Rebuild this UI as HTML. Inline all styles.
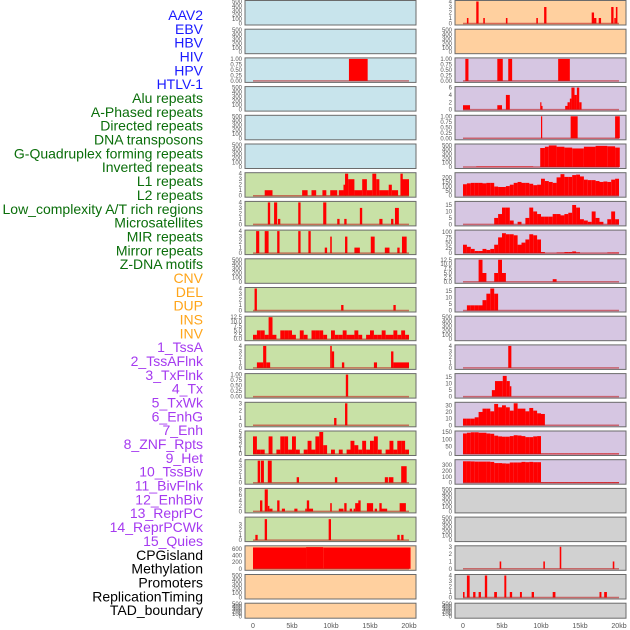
<!DOCTYPE html>
<html><head><meta charset="utf-8">
<style>
html,body{margin:0;padding:0;background:#fff;}
body{width:630px;height:630px;overflow:hidden;font-family:"Liberation Sans",sans-serif;}
svg{display:block;}
</style></head>
<body>
<svg id="chart" width="630" height="630" xmlns="http://www.w3.org/2000/svg"></svg>
<script>
// ---- labels ----
const labelText = ["AAV2","EBV","HBV","HIV","HPV","HTLV-1","Alu repeats","A-Phased repeats","Directed repeats","DNA transposons","G-Quadruplex forming repeats","Inverted repeats","L1 repeats","L2 repeats","Low_complexity A/T rich regions","Microsatellites","MIR repeats","Mirror repeats","Z-DNA motifs","CNV","DEL","DUP","INS","INV","1_TssA","2_TssAFlnk","3_TxFlnk","4_Tx","5_TxWk","6_EnhG","7_Enh","8_ZNF_Rpts","9_Het","10_TssBiv","11_BivFlnk","12_EnhBiv","13_ReprPC","14_ReprPCWk","15_Quies","CPGisland","Methylation","Promoters","ReplicationTiming","TAD_boundary"];
const labelGroup = [0,0,0,0,0,0,1,1,1,1,1,1,1,1,1,1,1,1,1,2,2,2,2,2,3,3,3,3,3,3,3,3,3,3,3,3,3,3,3,4,4,4,4,4];
const xTicks = [0,5,10,15,20];
const xTickLabels = ["0","5kb","10kb","15kb","20kb"];

// ---- tick sets ----
const T500=[0,100,200,300,400,500], T1=[0,0.25,0.5,0.75,1], T4=[0,1,2,3,4], T3=[0,1,2,3];
const T125=[0,2.5,5,7.5,10,12.5], T5=[0,1,2,3,4,5], T8=[0,2,4,6,8], T600=[0,200,400,600];
const T6=[0,2,4,6], T200=[0,50,100,150,200], T15=[0,5,10,15], T100=[0,25,50,75,100];
const T30=[0,10,20,30], T150=[0,50,100,150], T300=[0,100,200,300];

// ---- interval data (kb start, kb width, value) ----
const L2_x=[12.3], L2_w=[2.4], L2_v=[1];
const L6_x=[1.5,6.3,7.5,8.9,9.9,11.0,11.6,11.8,12.2,13.0,14.0,14.6,15.3,15.8,16.2,17.4,17.8,18.9,19.1];
const L6_w=[1.0,0.7,0.6,0.5,0.9,0.6,0.3,0.4,0.8,1.0,0.6,0.7,0.5,0.4,1.2,0.4,0.8,0.3,0.9];
const L6_v=[1,1,1,1,1,1,2,4,3,1,3,1,4,3,1,2,1,4,3];
const L7_x=[1.9,2.7,3.2,5.8,9.0,10.8,11.7,13.7,16.2,17.7,18.2];
const L7_w=[0.3,0.4,0.3,0.3,0.4,0.3,0.3,0.3,0.4,0.3,0.5];
const L7_v=[4,4,1,4,4,1,1,3,1,1,3];
const L8_x=[0.4,1.5,3.1,5.8,7.1,9.2,9.9,11.8,13.0,15.1,16.9,18.5,19.1];
const L8_w=[0.4,0.5,0.3,0.3,0.3,0.3,0.2,0.3,0.7,0.5,0.6,0.3,0.6];
const L8_v=[4,4,4,4,4,1,3,3,1,3,1,1,3];
const L10_x=[0.2,11.3,18.0], L10_w=[0.3,0.3,0.3], L10_v=[4,1,1];
const L12_x=[0.5,1.3,1.7,9.9,10.1,11.4,15.5,17.7,18.0];
const L12_w=[0.8,0.4,0.5,0.2,0.3,0.3,0.4,0.3,2.0];
const L12_v=[1,4,1,4,3,1,1,3,1];
const L13_x=[11.9], L13_w=[0.3], L13_v=[1];
const L14_x=[10.4,11.8], L14_w=[0.3,0.3], L14_v=[1,3];
const L16_x=[0.6,1.0,1.9,5.6,10.5,16.9,17.4,19.0];
const L16_w=[0.3,0.4,0.5,0.3,0.3,0.4,0.6,0.7];
const L16_v=[4,4,4,1,1,1,1,3];
const L17_x=[0.9,1.5,1.9,2.1,3.1,3.7,5.3,6.7,6.9,7.1,9.9,11.0,11.7,12.4,12.9,13.1,13.5,14.6,15.6,16.2,16.4,18.8];
const L17_w=[0.3,0.4,0.2,0.4,0.3,0.4,0.4,0.2,0.3,0.6,0.2,0.6,0.3,0.3,0.2,0.5,0.3,0.8,0.3,0.3,0.8,0.8];
const L17_v=[4,8,2,1,4,1,1,1,4,1,3,1,3,1,1,3,4,3,1,3,1,3];
const L18_x=[0.3,1.5,9.7,18.5,19.0], L18_w=[0.3,0.3,0.3,0.3,0.3], L18_v=[1,4,4,1,1];
const L19_x=[0,6.8,9.0], L19_w=[6.8,2.2,11.2], L19_v=[640,650,640];

const R0_x=[0.5,1.7,2.6,5.5,9.4,10.4,16.5,16.8,17.4,19.0,19.4,19.6];
const R0_w=[0.2,0.3,0.2,0.2,0.2,0.3,0.3,0.3,0.3,0.3,0.2,0.2];
const R0_v=[1,4,1,1,1,3,2,1,1,3,1,3];
const R2_x=[0.3,4.4,5.8,12.2], R2_w=[0.4,0.7,0.5,1.5], R2_v=[1,1,1,1];
const R3_x=[0,4.4,5.5,9.9,10.0,13.1,13.4,13.7,13.9,14.3,14.6,14.9];
const R3_w=[0.9,0.6,0.5,0.1,0.2,0.3,0.3,0.2,0.4,0.3,0.3,0.3];
const R3_v=[1.2,1.2,4,2,1,1,2,3,6,4,6,2];
const R4_x=[10.0,13.8,19.5], R4_w=[0.1,0.9,0.6], R4_v=[1,1,1];
const R5_x=[1.7,9.9,10.5,11.0,12.0,13.0,14.0,15.5,17.0,18.5,19.5];
const R5_w=[7.3,0.6,0.5,1.0,1.0,1.0,1.5,1.5,1.5,1.0,0.6];
const R5_v=[12,440,470,500,470,450,430,470,490,480,450];
const R12_x=[5.8], R12_w=[0.4], R12_v=[4];
const R13_x=[3.7,4.1,5.1,5.6,6.0], R13_w=[0.4,1.0,0.5,0.4,0.2], R13_v=[5,12,16,12,8];
const R19_x=[4.7,10.3,12.4,19.2], R19_w=[0.2,0.2,0.2,0.2], R19_v=[1,1,3,1];
const R20_x=[0,0.5,1.3,2.0,2.8,4.0,5.3,6.0,7.3,8.8,11.5,17.5,18.1];
const R20_w=[0.2,0.35,0.3,0.3,0.3,0.35,0.25,0.3,0.25,0.3,0.35,0.25,0.35];
const R20_v=[1,4,1,1,4,1,4,1,1,1,1,1,1];

// ---- binned data (0.5 kb bins) ----
const L11_bins=[2.5,5,5,2.5,12.5,2.5,0,5,5,5,2.5,0,5,2.5,0,5,5,5,2.5,0,5,2.5,2.5,5,2.5,2.5,5,2.5,0,2.5,5,2.5,2.5,5,2.5,2.5,5,2.5,5,2.5];
const L15_bins=[4,1,1,0,4,0,1,4,4,1,4,1,0,1,3,1,4,5,2,0,1,0,1,0,1,3,2,1,3,1,3,4,1,0,1,3,1,3,3,1];
const R6_bins=[125,135,140,140,140,135,140,140,100,95,95,105,120,140,150,140,140,130,115,120,185,160,150,140,200,235,205,205,225,230,210,175,170,170,160,150,155,150,175,185];
const R7_bins=[0,0,0,0,0,0,0,0,5,8,13,13,3,0,2,0,5,13,10,8,6,6,6,8,8,7,8,9,15,13,4,3,2,10,5,2,0,4,10,4];
const R8_bins=[40,30,20,10,10,20,15,20,40,75,95,90,90,85,40,50,65,90,85,65,5,0,0,0,3,3,5,5,8,4,0,0,0,0,0,0,0,3,3,3];
const R9_bins=[0,0,0,0,12.5,5,0,0,5,12.5,5,0,0,0,0,0,0,0,0,0,0,0,0,1.5,0,0,0,0,0,0,0,0,0,0,0,0,0,0,0,0];
const R10_bins=[0,4,4,4,4,8,13,17,13,0,0,0,0,0,0,0,0,0,0,0,0,0,0,0,0,0,0,0,0,0,0,0,0,0,0,0,0,0,0,0];
const R14_bins=[10,10,10,12,20,25,25,21,32,27,30,27,22,33,25,25,21,26,22,18,17,0,0,0,0,0,0,0,0,0,0,0,0,0,0,0,0,0,0,0];
const R15_bins=[140,145,148,148,145,145,140,138,125,120,118,118,122,128,126,122,115,115,120,122,3,3,3,3,3,3,3,3,3,3,3,3,3,3,3,3,3,3,3,3];
const R16_bins=[360,360,358,355,355,355,355,350,330,330,325,322,340,340,340,350,345,350,345,345,10,10,10,10,10,10,10,10,10,10,10,10,10,10,10,10,10,10,10,10];

// ---- render ----
const NS="http://www.w3.org/2000/svg";
const svg=document.getElementById('chart');
function mk(tag,attrs,parent){const e=document.createElementNS(NS,tag);for(const k in attrs)e.setAttribute(k,attrs[k]);(parent||svg).appendChild(e);return e;}
const labelColors=["#1a1aff","#0a6e0a","#ffa51a","#a53af0","#000000"];
labelText.forEach((t,i)=>{
  const e=mk('text',{x:203,y:15+i*13.84+5,'text-anchor':'end','font-size':'14','fill':labelColors[labelGroup[i]]});
  e.textContent=t;
  
  
});
const BLUE="#c8e4ec",GREEN="#c8e1a6",PEACH="#ffd09f",PURPLE="#d6c6e2",GRAY="#d1d1d1";
function bins(a){return {x:a.map((_,i)=>i*0.5),w:a.map(()=>0.5),v:a};}
function iv(x,w,v){return {x:x,w:w,v:v};}
const leftPanels=[
 [BLUE,T500,500,null],[BLUE,T500,500,null],[BLUE,T1,1,iv(L2_x,L2_w,L2_v)],[BLUE,T500,500,null],[BLUE,T500,500,null],[BLUE,T500,500,null],
 [GREEN,T4,4,iv(L6_x,L6_w,L6_v)],[GREEN,T4,4,iv(L7_x,L7_w,L7_v)],[GREEN,T4,4,iv(L8_x,L8_w,L8_v)],[GREEN,T500,500,null],
 [GREEN,T4,4,iv(L10_x,L10_w,L10_v)],[GREEN,T125,12.5,bins(L11_bins)],[GREEN,T4,4,iv(L12_x,L12_w,L12_v)],[GREEN,T1,1,iv(L13_x,L13_w,L13_v)],
 [GREEN,T3,3,iv(L14_x,L14_w,L14_v)],[GREEN,T5,5,bins(L15_bins)],[GREEN,T4,4,iv(L16_x,L16_w,L16_v)],[GREEN,T8,8,iv(L17_x,L17_w,L17_v)],
 [GREEN,T3,4.2,iv(L18_x,L18_w,L18_v)],[PEACH,T600,660,iv(L19_x,L19_w,L19_v)],[PEACH,T500,500,null],[PEACH,T500,500,null]];
const rightPanels=[
 [PEACH,T4,4,iv(R0_x,R0_w,R0_v)],[PEACH,T500,500,null],[PURPLE,T1,1,iv(R2_x,R2_w,R2_v)],[PURPLE,T6,6,iv(R3_x,R3_w,R3_v)],
 [PURPLE,T1,1,iv(R4_x,R4_w,R4_v)],[PURPLE,T500,510,iv(R5_x,R5_w,R5_v)],[PURPLE,T200,240,bins(R6_bins)],[PURPLE,T15,17,bins(R7_bins)],
 [PURPLE,T100,105,bins(R8_bins)],[PURPLE,T125,12.5,bins(R9_bins)],[PURPLE,T15,17,bins(R10_bins)],[PURPLE,T500,500,null],
 [PURPLE,T4,4,iv(R12_x,R12_w,R12_v)],[PURPLE,T15,17,iv(R13_x,R13_w,R13_v)],[PURPLE,T30,33,bins(R14_bins)],[PURPLE,T150,150,bins(R15_bins)],
 [PURPLE,T300,370,bins(R16_bins)],[GRAY,T500,500,null],[GRAY,T500,500,null],[GRAY,T3,3,iv(R19_x,R19_w,R19_v)],
 [GRAY,T4,4,iv(R20_x,R20_w,R20_v)],[GRAY,T500,500,null]];

function fmt(t,ticks){const dec=ticks.some(v=>v%1!==0);if(!dec)return String(t);return ticks.some(v=>Math.round(v*100)%10!==0&&v<2)?t.toFixed(2):t.toFixed(1);}
function drawPanel(col,i,p){
  const px=col===0?245:455, pw=171;
  const top=0.5+28.7*i, h=(i===21?15:24.5);
  const g=mk('g',{});
  
  
  const bg=mk('rect',{x:px,y:top,width:pw,height:h,fill:p[0],stroke:'#6b6b6b','stroke-width':1},g);
  
  
  const y0=top+h-1.5, ymax=p[2];
  const ys=v=>y0-(v/ymax)*(h-2.5);
  const xs=kb=>px+8+kb*7.8;
  p[1].forEach(t=>{
    const tx=mk('text',{x:px-3,y:ys(t)+2,'text-anchor':'end','font-size':'6','fill':'#555'},g);
    tx.textContent=fmt(t,p[1]);
    
    
  });
  if(p[3]){
    const d=p[3];
    for(let k=0;k<d.v.length;k++){
      if(d.v[k]<=0)continue;
      const r=mk('rect',{x:xs(d.x[k]),y:ys(d.v[k]),width:Math.max(1.2,d.w[k]*7.8),height:y0-ys(d.v[k]),fill:'#ff0000'},g);
      
      
    }
    const bl=mk('line',{x1:xs(0),x2:xs(20),y1:y0,y2:y0,stroke:'rgba(190,20,20,0.55)','stroke-width':1.5},g);
    
    
  }
}
leftPanels.forEach((p,i)=>drawPanel(0,i,p));
rightPanels.forEach((p,i)=>drawPanel(1,i,p));
[245,455].forEach((px,c)=>{
  xTicks.forEach((t,k)=>{
    const e=mk('text',{x:px+8+t*7.8,y:628,'text-anchor':'middle','font-size':'7','fill':'#555'});
    e.textContent=xTickLabels[k];
    
    
  });
});
</script>
</body></html>
